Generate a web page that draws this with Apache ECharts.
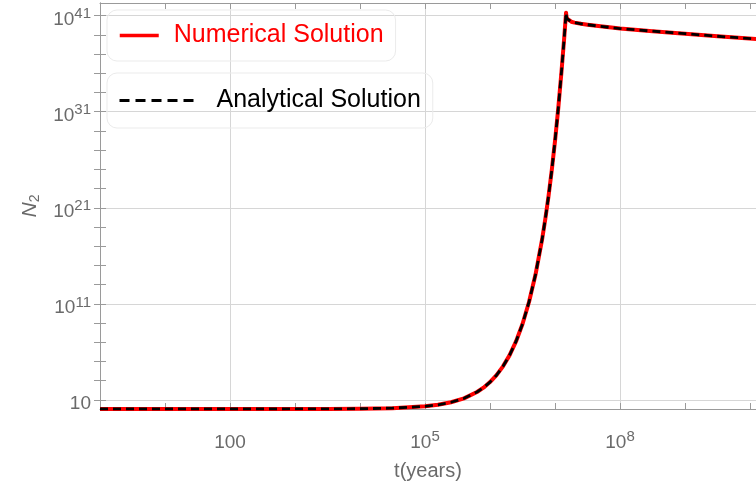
<!DOCTYPE html>
<html>
<head>
<meta charset="utf-8">
<script src="https://cdn.jsdelivr.net/npm/echarts@6/dist/echarts.min.js"></script>
<style>
  html, body { margin: 0; padding: 0; background: #ffffff; }
  #chart { width: 756px; height: 486px; }
</style>
</head>
<body>
<div id="chart"></div>
<script>
// Both axes are logarithmic; values are stored as base-10 exponents.
// log10 of time t (years)
const logT = [0, 1, 2, 3, 3.5, 4, 4.5, 5, 5.2, 5.4, 5.6, 5.8, 5.9, 6.0, 6.1, 6.2, 6.3, 6.4, 6.5, 6.6, 6.7,
              6.8, 6.85, 6.9, 6.95, 7.0, 7.05, 7.1, 7.14, 7.17, 7.175, 7.185, 7.2, 7.25, 7.3, 7.4, 7.5,
              7.7, 8.0, 8.5, 9.0, 9.5, 10.1];
// log10 of N2, numerical integration
const logN2Numerical = [0.06, 0.06, 0.06, 0.063, 0.07, 0.088, 0.15, 0.34, 0.5, 0.76, 1.17, 1.83, 2.28, 2.86,
                        3.58, 4.5, 5.64, 7.09, 8.9, 11.2, 14.05, 17.65, 19.8, 22.2, 24.9, 27.95, 31.35,
                        35.2, 38.55, 41.3, 40.95, 40.68, 40.52, 40.36, 40.27, 40.15, 40.05, 39.88, 39.65,
                        39.38, 39.12, 38.85, 38.56];
// log10 of N2, closed-form solution
const logN2Analytical = [0.06, 0.06, 0.06, 0.063, 0.07, 0.088, 0.15, 0.34, 0.5, 0.76, 1.17, 1.83, 2.28, 2.86,
                         3.58, 4.5, 5.64, 7.09, 8.9, 11.2, 14.05, 17.65, 19.8, 22.2, 24.9, 27.95, 31.35,
                         35.2, 38.55, 41.3, 40.95, 40.68, 40.52, 40.36, 40.27, 40.15, 40.05, 39.88, 39.65,
                         39.38, 39.12, 38.85, 38.56];

// Tick, label and grid positions (exponents)
const xTickExps = [0, 1, 2, 3, 4, 5, 6, 7, 8, 9, 10];
const xLabelExps = [2, 5, 8];
const yTickExps = [1, 3, 5, 7, 9, 11, 13, 15, 17, 19, 21, 23, 25, 27, 29, 31, 33, 35, 37, 39, 41];
const yLabelExps = [1, 11, 21, 31, 41];

const X_RANGE = [0, 10.092];
const Y_RANGE = [0.06, 42.31];

const FONT = '"Liberation Sans", Arial, sans-serif';
const AXIS_COLOR = '#9a9a9a';
const LABEL_COLOR = '#6a6a6a';
const GRID_COLOR = '#d6d6d6';

function powerLabel(v) {
  const e = Math.round(v);
  if (e === 1) return '{b|10}';
  if (e === 2) return '{b|100}';
  return '{b|10}{s|' + e + '}';
}
// base sits slightly low, exponent raised
const powerRich = {
  b: { fontSize: 19, color: LABEL_COLOR, fontFamily: FONT, padding: [8, 0, 0, 0] },
  s: { fontSize: 15, color: LABEL_COLOR, fontFamily: FONT, padding: [0, 0, 3, 0] }
};

function pairs(xs, ys) {
  return xs.map((x, i) => [x, ys[i]]);
}

const frameLine = { show: true, lineStyle: { color: AXIS_COLOR, width: 1 } };
const noLine = { show: false };

const option = {
  animation: false,
  backgroundColor: '#ffffff',
  grid: { left: 100, top: 3, right: 0, bottom: 77, containLabel: false },
  legend: [
    {
      data: [{ name: 'Numerical Solution', textStyle: { color: '#ff0000' } }],
      left: 107, top: 10,
      orient: 'horizontal',
      itemWidth: 39, itemHeight: 14,
      padding: [13, 12, 13, 11],
      borderColor: '#ebebeb', borderWidth: 1, borderRadius: 10,
      textStyle: { fontSize: 25, fontFamily: FONT, color: '#ff0000', padding: [0, 0, 0, 10] },
      lineStyle: { width: 3.5 },
      itemStyle: { opacity: 0 },
      selectedMode: false
    },
    {
      data: [{ name: 'Analytical Solution', textStyle: { color: '#000000' } }],
      left: 107, top: 73,
      orient: 'horizontal',
      itemWidth: 76, itemHeight: 14,
      padding: [15, 12, 15, 11],
      borderColor: '#ebebeb', borderWidth: 1, borderRadius: 10,
      textStyle: { fontSize: 25, fontFamily: FONT, color: '#000000', padding: [0, 0, 0, 16] },
      lineStyle: { width: 3, type: [10, 6] },
      itemStyle: { opacity: 0 },
      selectedMode: false
    }
  ],
  xAxis: [
    {
      type: 'value', position: 'bottom', min: X_RANGE[0], max: X_RANGE[1],
      axisLine: frameLine,
      axisTick: { show: true, inside: true, length: 6, customValues: xTickExps, lineStyle: { color: AXIS_COLOR } },
      axisLabel: { show: true, customValues: xLabelExps, formatter: powerLabel, rich: powerRich, margin: 16 },
      splitLine: { show: false },
      name: 't(years)', nameLocation: 'middle', nameGap: 52,
      nameTextStyle: { fontSize: 20, color: LABEL_COLOR, fontFamily: FONT }
    },
    {
      type: 'value', position: 'top', min: X_RANGE[0], max: X_RANGE[1],
      axisLine: frameLine,
      axisTick: { show: true, inside: true, length: 6, customValues: xTickExps, lineStyle: { color: AXIS_COLOR } },
      axisLabel: { show: false },
      splitLine: { show: false }
    },
    {
      // carries the vertical grid lines
      type: 'value', position: 'bottom', min: X_RANGE[0], max: X_RANGE[1],
      axisLine: noLine,
      axisTick: { show: false, customValues: xLabelExps },
      axisLabel: { show: false },
      splitLine: { show: true, lineStyle: { color: GRID_COLOR, width: 1 } }
    }
  ],
  yAxis: [
    {
      type: 'value', position: 'left', min: Y_RANGE[0], max: Y_RANGE[1],
      axisLine: frameLine,
      axisTick: { show: true, inside: true, length: 6, customValues: yTickExps, lineStyle: { color: AXIS_COLOR } },
      axisLabel: { show: true, customValues: yLabelExps, formatter: powerLabel, rich: powerRich, margin: 9 },
      splitLine: { show: false },
      name: '{i|N}{sub|2}', nameLocation: 'middle', nameGap: 51, nameRotate: 90,
      nameTextStyle: {
        rich: {
          i: { fontSize: 21, fontStyle: 'italic', color: LABEL_COLOR, fontFamily: FONT },
          sub: { fontSize: 14, color: LABEL_COLOR, fontFamily: FONT, padding: [10, 0, 0, 0] }
        }
      }
    },
    {
      type: 'value', position: 'right', min: Y_RANGE[0], max: Y_RANGE[1],
      axisLine: frameLine,
      axisTick: { show: true, inside: true, length: 6, customValues: yTickExps, lineStyle: { color: AXIS_COLOR } },
      axisLabel: { show: false },
      splitLine: { show: false }
    },
    {
      // carries the horizontal grid lines
      type: 'value', position: 'left', min: Y_RANGE[0], max: Y_RANGE[1],
      axisLine: noLine,
      axisTick: { show: false, customValues: yLabelExps },
      axisLabel: { show: false },
      splitLine: { show: true, lineStyle: { color: GRID_COLOR, width: 1 } }
    }
  ],
  series: [
    {
      name: 'Numerical Solution', type: 'line', xAxisIndex: 0, yAxisIndex: 0,
      data: pairs(logT, logN2Numerical),
      symbol: 'none', smooth: false, clip: true, z: 3,
      lineStyle: { color: '#ff0000', width: 4, join: 'round' },
      itemStyle: { color: '#ff0000' }
    },
    {
      name: 'Analytical Solution', type: 'line', xAxisIndex: 0, yAxisIndex: 0,
      data: pairs(logT, logN2Analytical),
      symbol: 'none', smooth: false, clip: true, z: 4,
      lineStyle: { color: '#000000', width: 2.8, type: [8, 5], join: 'round' },
      itemStyle: { color: '#000000' }
    }
  ]
};

const chart = echarts.init(document.getElementById('chart'), null, { renderer: 'canvas' });
chart.setOption(option);
</script>
</body>
</html>
